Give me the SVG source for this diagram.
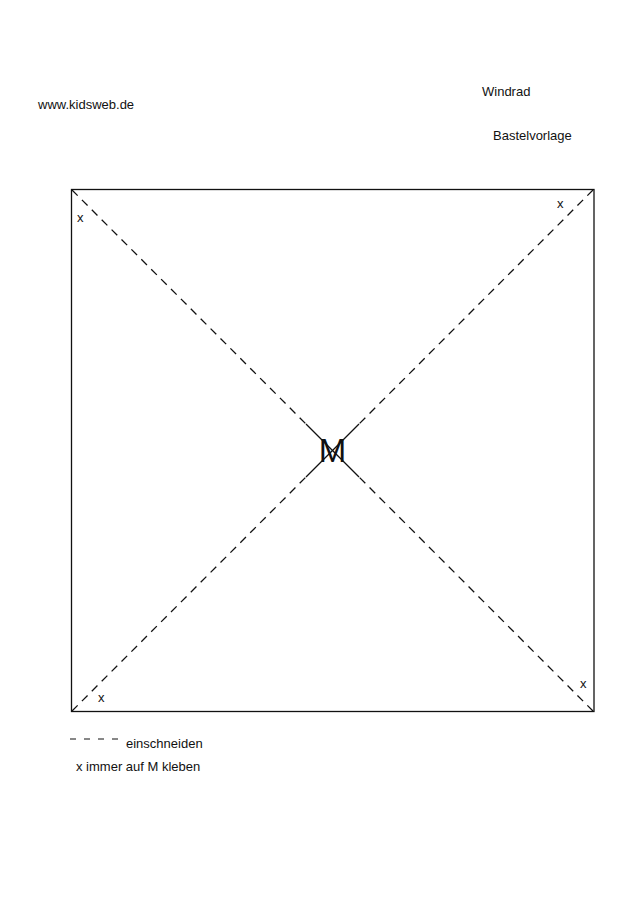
<svg xmlns="http://www.w3.org/2000/svg" width="640" height="905" viewBox="0 0 640 905">
<style>
text{font-family:"Liberation Sans",Arial,sans-serif;fill:#111;font-size:13px}
.dash{stroke:#111;stroke-width:1.3;stroke-dasharray:8 6;fill:none}
.solid{stroke:#111;stroke-width:1.3;fill:none}
</style>
<rect width="640" height="905" fill="#fff"/>
<g id="header">
<text x="38" y="109">www.kidsweb.de</text>
<text x="482" y="96">Windrad</text>
<text x="493" y="140">Bastelvorlage</text>
</g>
<g id="square">
<rect x="71.5" y="189.5" width="522.5" height="522" fill="none" stroke="#111" stroke-width="1.3"/>
</g>
<g id="connectors">
<line class="dash" x1="72" y1="190" x2="306" y2="424"/>
<line class="dash" x1="593" y1="711" x2="359" y2="477"/>
<line class="dash" x1="593" y1="190" x2="359" y2="424"/>
<line class="dash" x1="72" y1="711" x2="306" y2="477"/>
<line class="solid" x1="306" y1="424" x2="359" y2="477"/>
<line class="solid" x1="359" y1="424" x2="306" y2="477"/>
</g>
<g id="center">
<text x="332.5" y="462" text-anchor="middle" style="font-size:33px">M</text>
</g>
<g id="marks">
<text x="77" y="222">x</text>
<text x="557" y="208">x</text>
<text x="98" y="702">x</text>
<text x="580" y="688">x</text>
</g>
<g id="legend">
<line x1="70" y1="739" x2="118" y2="739" stroke="#111" stroke-width="1" stroke-dasharray="6 8"/>
<text x="126" y="748">einschneiden</text>
<text x="76" y="771">x immer auf M kleben</text>
</g>
</svg>
